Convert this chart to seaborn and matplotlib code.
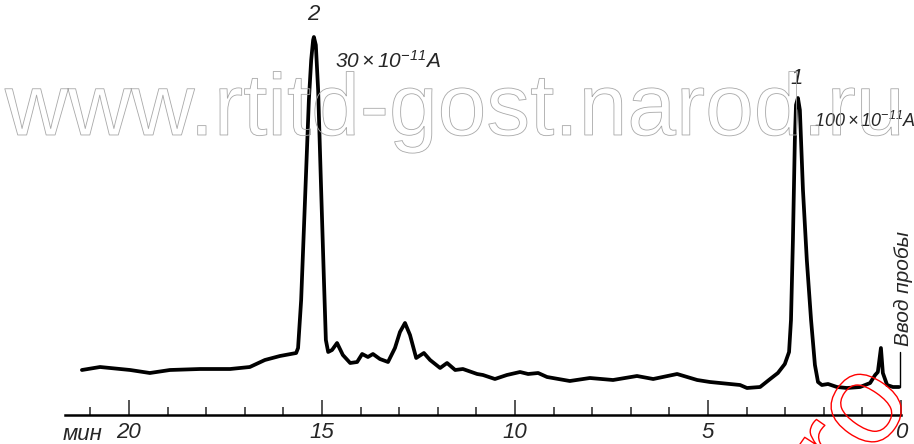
import seaborn as sns
import numpy as np
import matplotlib.pyplot as plt
import matplotlib.patheffects as pe
from matplotlib.ticker import FixedLocator

sns.set_style("white")
plt.rcParams['font.family'] = ['Liberation Sans', 'DejaVu Sans']
plt.rcParams['mathtext.fontset'] = 'custom'
plt.rcParams['mathtext.it'] = 'Liberation Sans:italic'
plt.rcParams['mathtext.rm'] = 'Liberation Sans:italic'
plt.rcParams['mathtext.default'] = 'it'

# chromatogram trace: time (min) and detector response (arb.)
time_min = [21.22, 20.75, 19.97, 19.46, 18.94, 18.16, 17.38, 16.87, 16.48, 16.09,
            15.67, 15.62, 15.54, 15.44, 15.34, 15.28, 15.23, 15.21, 15.16, 15.10,
            15.03, 14.95, 14.90, 14.84, 14.74, 14.61, 14.46, 14.27, 14.09, 13.96,
            13.81, 13.68, 13.50, 13.29, 13.11, 12.98, 12.85, 12.72, 12.56, 12.36,
            12.20, 11.94, 11.76, 11.55, 11.35, 10.98, 10.83, 10.52, 10.21, 9.87,
            9.66, 9.40, 9.17, 8.58, 8.06, 7.46, 6.84, 6.42, 5.80, 5.28,
            4.95, 4.17, 3.99, 3.65, 3.39, 3.19, 3.01, 2.90, 2.85, 2.80,
            2.75, 2.72, 2.67, 2.62, 2.54, 2.44, 2.33, 2.23, 2.15, 2.05,
            1.89, 1.66, 1.40, 1.06, 0.80, 0.67, 0.60, 0.52, 0.47, 0.36,
            0.21, 0.05]
signal = [45, 48, 45, 42, 45, 46, 46, 48, 55, 59,
          62, 67, 115, 215, 315, 355, 375, 378, 370, 325,
          235, 135, 75, 63, 65, 72, 60, 52, 53, 61,
          58, 61, 56, 53, 67, 83, 92, 80, 57, 62,
          55, 47, 52, 45, 46, 41, 40, 36, 40, 43,
          41, 42, 38, 34, 37, 35, 39, 36, 41, 35,
          33, 30, 27, 28, 36, 42, 51, 63, 95, 175,
          275, 310, 317, 305, 225, 155, 95, 50, 33, 30,
          31, 28, 27, 28, 32, 40, 43, 67, 42, 30,
          28, 28]

peak_names = ["2", "1"]
peak_time = [15.23, 2.70]
peak_label_y = [390, 326]
scale_text = [r"$30\times10^{-11}A$", r"$100\times10^{-11}A$"]
scale_time = [14.66, 2.26]
scale_y = [347, 288]
scale_size = [15, 13]

inject_time = 0.03
inject_mark = [28, 63]

major_ticks = [0, 5, 10, 15, 20]
minor_ticks = [1, 2, 3, 4, 6, 7, 8, 9, 11, 12, 13, 14, 16, 17, 18, 19, 21]
axis_end = 21.65

fig = plt.figure(figsize=(9.14, 4.44), dpi=100)
ax = fig.add_axes([0, 29 / 444, 1, 415 / 444])

# faint outlined watermark behind the trace
fig.text(0.498, 0.696, "www.rtitd-gost.narod.ru", ha="center", va="baseline",
         fontsize=63, family="Liberation Sans", color="none", zorder=0,
         path_effects=[pe.Stroke(linewidth=0.6, foreground="#a8a8a8")])

sns.lineplot(x=time_min, y=signal, ax=ax, color="black", lw=2.7, sort=False,
             estimator=None, zorder=3)
ax.lines[-1].set_solid_joinstyle("round")
ax.plot([inject_time, inject_time], inject_mark, color="black", lw=1.0)

ax.set_xlim(901 / 38.6, -13 / 38.6)
ax.set_ylim(0, 415)

for s in ["top", "left", "right"]:
    ax.spines[s].set_visible(False)
ax.spines["bottom"].set_bounds(axis_end, 0)
ax.spines["bottom"].set_linewidth(1.8)
ax.spines["bottom"].set_color("black")

ax.xaxis.set_major_locator(FixedLocator(major_ticks))
ax.xaxis.set_minor_locator(FixedLocator(minor_ticks))
ax.set_xticklabels([str(v) for v in major_ticks], fontstyle="italic", fontsize=16)
ax.tick_params(axis="x", which="major", direction="in", length=11, width=1.1,
               pad=5, bottom=True)
ax.tick_params(axis="x", which="minor", direction="in", length=6, width=1.1,
               bottom=True)
ax.set_yticks([])
ax.text(21.2, -19, "мин", ha="center", va="center", fontstyle="italic",
        fontsize=16, clip_on=False)

for name, t, y in zip(peak_names, peak_time, peak_label_y):
    ax.text(t, y, name, ha="center", va="bottom", fontstyle="italic", fontsize=16)
for txt, t, y, fs in zip(scale_text, scale_time, scale_y, scale_size):
    ax.text(t, y, txt, ha="left", va="baseline", fontsize=fs)

ax.text(-0.07, 127, "Ввод пробы", rotation=90, ha="center", va="center",
        fontstyle="italic", fontsize=15)

# red stamp fragment in the lower right corner
fig.text(0.935, 0.04, "ro", rotation=55, ha="center", va="center", fontsize=92,
         family="Liberation Sans", color="none", zorder=5,
         path_effects=[pe.Stroke(linewidth=1.0, foreground="red")])

fig.savefig("out.png", dpi=100)
